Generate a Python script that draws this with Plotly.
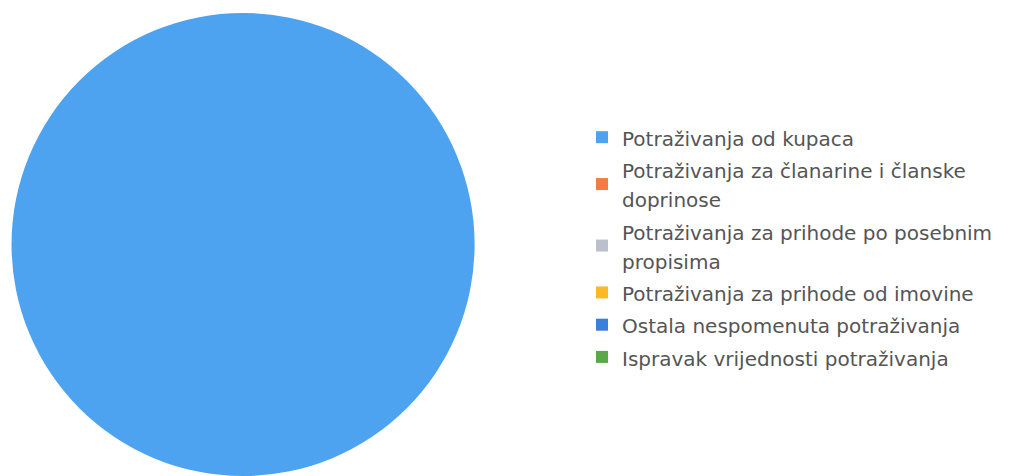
import plotly.graph_objects as go

labels = [
    "Potraživanja od kupaca",
    "Potraživanja za članarine i članske<br>doprinose",
    "Potraživanja za prihode po posebnim<br>propisima",
    "Potraživanja za prihode od imovine",
    "Ostala nespomenuta potraživanja",
    "Ispravak vrijednosti potraživanja",
]
values = [100, 0, 0, 0, 0, 0]
colors = ["#4da3f0", "#f47b45", "#bcc0cc", "#fdb827", "#3b7fdc", "#5ba84b"]


def styled(text):
    return "<br>".join(
        f'<span style="font-size:20px">{part}</span>' for part in text.split("<br>")
    )


fig = go.Figure(go.Pie(
    labels=labels,
    values=values,
    text=[styled(l) for l in labels],
    marker=dict(colors=colors, line=dict(width=0)),
    textinfo="none",
    sort=False,
    direction="clockwise",
    domain=dict(x=[0.003, 0.4624], y=[0.0168, 0.9895]),
    hoverinfo="label+percent",
))

# legend entries use the pie labels; restyle their text size via label spans
fig.data[0].labels = [styled(l) for l in labels]

fig.update_layout(
    width=1010,
    height=476,
    margin=dict(l=0, r=0, t=0, b=0),
    paper_bgcolor="white",
    plot_bgcolor="white",
    showlegend=True,
    legend=dict(
        x=0.5683, xanchor="left",
        y=0.773, yanchor="top",
        font=dict(family="DejaVu Sans", size=22.5, color="#555555"),
        bgcolor="rgba(0,0,0,0)",
    ),
)

fig.write_html("out.html")
